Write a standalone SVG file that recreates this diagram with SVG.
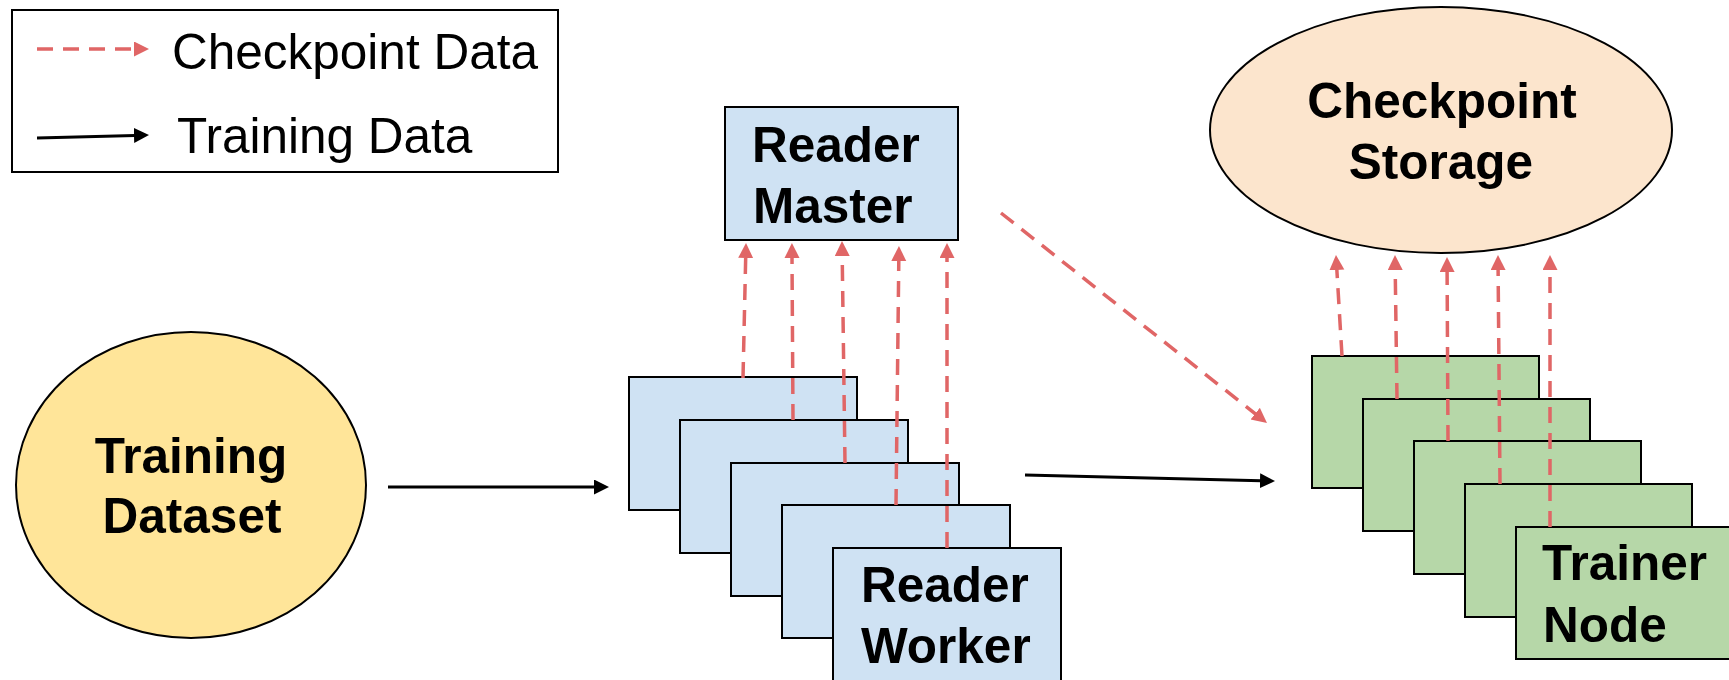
<svg xmlns="http://www.w3.org/2000/svg" width="1729" height="680" viewBox="0 0 1729 680">
<defs>
<marker id="redHead" markerUnits="userSpaceOnUse" markerWidth="16" markerHeight="16" refX="1" refY="7.5" orient="auto"><path d="M0,0 L15,7.5 L0,15 z" fill="#E06666"/></marker>
<marker id="blackHead" markerUnits="userSpaceOnUse" markerWidth="16" markerHeight="16" refX="1" refY="7.5" orient="auto"><path d="M0,0 L15,7.5 L0,15 z" fill="#000"/></marker>
<style>
.lbl{font-family:"Liberation Sans",Arial,sans-serif;font-size:49.5px;fill:#000}
.bold{font-weight:bold}
.reader{fill:#CFE2F3;stroke:#000;stroke-width:2}
.trainer{fill:#B6D7A8;stroke:#000;stroke-width:2}
.ckpt{stroke:#E06666;stroke-width:3.5;stroke-dasharray:16 10;fill:none;marker-end:url(#redHead)}
.train{stroke:#000;stroke-width:3;fill:none;marker-end:url(#blackHead)}
</style>
</defs>
<rect width="1729" height="680" fill="#fff"/>

<g id="legend">
<rect x="12" y="10" width="546" height="162" fill="#fff" stroke="#000" stroke-width="2"/>
<line class="ckpt" x1="37" y1="49" x2="135" y2="49"/>
<text class="lbl" x="172" y="69">Checkpoint Data</text>
<line class="train" x1="37" y1="138" x2="135" y2="135.4"/>
<text class="lbl" x="177" y="153">Training Data</text>
</g>

<g id="training-dataset">
<ellipse cx="191" cy="485" rx="175" ry="153" fill="#FFE599" stroke="#000" stroke-width="2"/>
<text class="lbl bold" x="191" y="473" text-anchor="middle">Training</text>
<text class="lbl bold" x="192" y="533" text-anchor="middle">Dataset</text>
</g>

<g id="reader-master">
<rect class="reader" x="725" y="107" width="233" height="133"/>
<text class="lbl bold" x="752" y="162">Reader</text>
<text class="lbl bold" x="753" y="223">Master</text>
</g>

<g id="checkpoint-storage">
<ellipse cx="1441" cy="130" rx="231" ry="123" fill="#FCE5CD" stroke="#000" stroke-width="2"/>
<text class="lbl bold" x="1442" y="118" text-anchor="middle">Checkpoint</text>
<text class="lbl bold" x="1441" y="179" text-anchor="middle">Storage</text>
</g>

<g id="reader-workers">
<rect class="reader" x="629" y="377" width="228" height="133"/>
<rect class="reader" x="680" y="420" width="228" height="133"/>
<rect class="reader" x="731" y="463" width="228" height="133"/>
<rect class="reader" x="782" y="505" width="228" height="133"/>
<rect class="reader" x="833" y="548" width="228" height="133"/>
<text class="lbl bold" x="861" y="602">Reader</text>
<text class="lbl bold" x="861" y="663">Worker</text>
</g>

<g id="trainer-nodes">
<rect class="trainer" x="1312" y="356" width="227" height="132"/>
<rect class="trainer" x="1363" y="399" width="227" height="132"/>
<rect class="trainer" x="1414" y="441" width="227" height="133"/>
<rect class="trainer" x="1465" y="484" width="227" height="133"/>
<rect class="trainer" x="1516" y="527" width="227" height="132"/>
<text class="lbl bold" x="1542" y="580">Trainer</text>
<text class="lbl bold" x="1543" y="642">Node</text>
</g>

<g id="connectors">
<line class="train" x1="388" y1="487" x2="595" y2="487"/>
<line class="train" x1="1025" y1="475" x2="1261" y2="480.7"/>
<line class="ckpt" x1="1001" y1="213" x2="1256" y2="414.3"/>
<line class="ckpt" x1="743" y1="378" x2="745.7" y2="257"/>
<line class="ckpt" x1="793" y1="420" x2="792" y2="257"/>
<line class="ckpt" x1="845" y1="463" x2="842.2" y2="255"/>
<line class="ckpt" x1="896" y1="505" x2="898.8" y2="260"/>
<line class="ckpt" x1="947" y1="548" x2="947" y2="257"/>
<line class="ckpt" x1="1342" y1="356" x2="1336.8" y2="269"/>
<line class="ckpt" x1="1397" y1="399" x2="1395.2" y2="269"/>
<line class="ckpt" x1="1448" y1="441" x2="1447.1" y2="271"/>
<line class="ckpt" x1="1500" y1="484" x2="1498.1" y2="269"/>
<line class="ckpt" x1="1550" y1="527" x2="1550" y2="269"/>
</g>
</svg>
